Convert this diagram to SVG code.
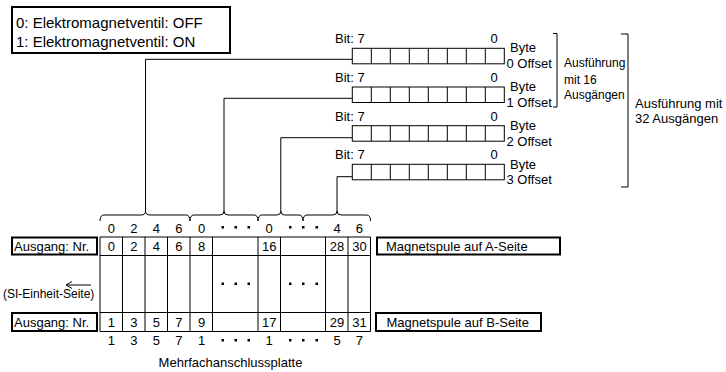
<svg xmlns="http://www.w3.org/2000/svg" width="726" height="372" viewBox="0 0 726 372">
<defs>
<style>
text{font-family:"Liberation Sans",Arial,sans-serif;fill:#000}
.t13{font-size:13px}
.t12{font-size:12px}
.t15{font-size:15px}
.mid{text-anchor:middle}
.ln{fill:none;stroke:#000;stroke-width:1}
.box{fill:#fff;stroke:#000;stroke-width:2}
.reg{fill:#fff;stroke:#000;stroke-width:1}
.dot{fill:#000}
</style>
<g id="regcells">
<rect class="reg" x="0" y="0" width="152" height="15.5"/>
<path class="ln" d="M19,0V15.5M38,0V15.5M57,0V15.5M76,0V15.5M95,0V15.5M114,0V15.5M133,0V15.5"/>
</g>
</defs>
<rect width="726" height="372" fill="#fff"/>

<g id="legend">
<rect class="box" x="12" y="7" width="218" height="46"/>
<text class="t15" x="16" y="28">0: Elektromagnetventil: OFF</text>
<text class="t15" x="16" y="47">1: Elektromagnetventil: ON</text>
</g>

<g id="connectors">
<path class="ln" d="M352.3,59.3H145.5V211"/>
<path class="ln" d="M352.3,98.3H224V211"/>
<path class="ln" d="M352.3,137.7H280.8V211"/>
<path class="ln" d="M352.3,176.7H337V211"/>
</g>

<g id="byte0">
<text class="t13" x="335" y="43">Bit: 7</text>
<text class="t13 mid" x="494" y="43">0</text>
<use href="#regcells" x="352.3" y="48.3"/>
<text class="t13" x="510" y="52">Byte</text>
<text class="t13" x="506.5" y="68">0 Offset</text>
</g>
<g id="byte1">
<text class="t13" x="335" y="82">Bit: 7</text>
<text class="t13 mid" x="494" y="82">0</text>
<use href="#regcells" x="352.3" y="87"/>
<text class="t13" x="510" y="91">Byte</text>
<text class="t13" x="506.5" y="107">1 Offset</text>
</g>
<g id="byte2">
<text class="t13" x="335" y="120.5">Bit: 7</text>
<text class="t13 mid" x="494" y="120.5">0</text>
<use href="#regcells" x="352.3" y="125.7"/>
<text class="t13" x="510" y="130">Byte</text>
<text class="t13" x="506.5" y="145.5">2 Offset</text>
</g>
<g id="byte3">
<text class="t13" x="335" y="159">Bit: 7</text>
<text class="t13 mid" x="494" y="159">0</text>
<use href="#regcells" x="352.3" y="164.3"/>
<text class="t13" x="510" y="168.5">Byte</text>
<text class="t13" x="506.5" y="184">3 Offset</text>
</g>

<g id="bracket16">
<path class="ln" d="M553,33.5H557V107H553"/>
<text class="t12" x="564" y="67">Ausführung</text>
<text class="t12" x="564" y="84">mit 16</text>
<text class="t12" x="564" y="99">Ausgängen</text>
</g>
<g id="bracket32">
<path class="ln" d="M621,34H628V187H621"/>
<text class="t13" x="635" y="107.5">Ausführung mit</text>
<text class="t13" x="635" y="123">32 Ausgängen</text>
</g>

<g id="braces">
<path class="ln" d="M100,221Q100,215 104,215H141Q145.5,215 145.5,211Q145.5,215 150,215H186Q190,215 190,221"/>
<path class="ln" d="M190,221Q190,215 194,215H220Q224,215 224,211Q224,215 228,215H254Q258,215 258,221"/>
<path class="ln" d="M258,221Q258,215 262,215H277Q280.8,215 280.8,211Q280.8,215 284.5,215H299Q303,215 303,221"/>
<path class="ln" d="M303,221Q303,215 307,215H333Q337,215 337,211Q337,215 341,215H366.5Q370.5,215 370.5,221"/>
</g>

<g id="header">
<text class="t13 mid" x="111.3" y="232.5">0</text>
<text class="t13 mid" x="133.8" y="232.5">2</text>
<text class="t13 mid" x="156.4" y="232.5">4</text>
<text class="t13 mid" x="178.9" y="232.5">6</text>
<text class="t13 mid" x="201.5" y="232.5">0</text>
<rect class="dot" x="221.5" y="226" width="2.5" height="2.5"/>
<rect class="dot" x="234.5" y="226" width="2.5" height="2.5"/>
<rect class="dot" x="247.5" y="226" width="2.5" height="2.5"/>
<text class="t13 mid" x="269.2" y="232.5">0</text>
<rect class="dot" x="289" y="226" width="2.5" height="2.5"/>
<rect class="dot" x="302" y="226" width="2.5" height="2.5"/>
<rect class="dot" x="315.5" y="226" width="2.5" height="2.5"/>
<text class="t13 mid" x="337" y="232.5">4</text>
<text class="t13 mid" x="359.4" y="232.5">6</text>
</g>

<g id="table">
<path class="ln" d="M100,237H370.5M100,255.5H370.5M100,312.5H370.5M100,331.5H370.5"/>
<path class="ln" d="M100,237V331.5M122.5,237V331.5M145,237V331.5M167.5,237V331.5M190,237V331.5M212.5,237V331.5M258,237V331.5M280.5,237V331.5M325.5,237V331.5M348,237V331.5M370.5,237V331.5"/>
<text class="t13 mid" x="111.3" y="250.5">0</text>
<text class="t13 mid" x="133.8" y="250.5">2</text>
<text class="t13 mid" x="156.4" y="250.5">4</text>
<text class="t13 mid" x="178.9" y="250.5">6</text>
<text class="t13 mid" x="201.5" y="250.5">8</text>
<text class="t13 mid" x="269.2" y="250.5">16</text>
<text class="t13 mid" x="337" y="250.5">28</text>
<text class="t13 mid" x="359.4" y="250.5">30</text>
<rect class="dot" x="221.5" y="282.5" width="2.5" height="2.5"/>
<rect class="dot" x="234.5" y="282.5" width="2.5" height="2.5"/>
<rect class="dot" x="247.5" y="282.5" width="2.5" height="2.5"/>
<rect class="dot" x="289" y="282.5" width="2.5" height="2.5"/>
<rect class="dot" x="302" y="282.5" width="2.5" height="2.5"/>
<rect class="dot" x="315.5" y="282.5" width="2.5" height="2.5"/>
<text class="t13 mid" x="111.3" y="326.5">1</text>
<text class="t13 mid" x="133.8" y="326.5">3</text>
<text class="t13 mid" x="156.4" y="326.5">5</text>
<text class="t13 mid" x="178.9" y="326.5">7</text>
<text class="t13 mid" x="201.5" y="326.5">9</text>
<text class="t13 mid" x="269.2" y="326.5">17</text>
<text class="t13 mid" x="337" y="326.5">29</text>
<text class="t13 mid" x="359.4" y="326.5">31</text>
</g>

<g id="footer">
<text class="t13 mid" x="111.3" y="345">1</text>
<text class="t13 mid" x="133.8" y="345">3</text>
<text class="t13 mid" x="156.4" y="345">5</text>
<text class="t13 mid" x="178.9" y="345">7</text>
<text class="t13 mid" x="201.5" y="345">1</text>
<rect class="dot" x="221.5" y="339" width="2.5" height="2.5"/>
<rect class="dot" x="234.5" y="339" width="2.5" height="2.5"/>
<rect class="dot" x="247.5" y="339" width="2.5" height="2.5"/>
<text class="t13 mid" x="269.2" y="345">1</text>
<rect class="dot" x="289" y="339" width="2.5" height="2.5"/>
<rect class="dot" x="302" y="339" width="2.5" height="2.5"/>
<rect class="dot" x="315.5" y="339" width="2.5" height="2.5"/>
<text class="t13 mid" x="337" y="345">5</text>
<text class="t13 mid" x="359.4" y="345">7</text>
<text class="t13 mid" x="230.5" y="367">Mehrfachanschlussplatte</text>
</g>

<g id="label-ausgang-a">
<rect class="box" x="12" y="237.5" width="85" height="17"/>
<text class="t13" x="14" y="250.5">Ausgang: Nr.</text>
</g>
<g id="label-ausgang-b">
<rect class="box" x="12" y="313" width="85" height="18"/>
<text class="t13" x="14" y="326.5">Ausgang: Nr.</text>
</g>
<g id="label-a-seite">
<rect class="box" x="377" y="237.5" width="183" height="17"/>
<text class="t13" x="386" y="250.5">Magnetspule auf A-Seite</text>
</g>
<g id="label-b-seite">
<rect class="box" x="376" y="313" width="165" height="18"/>
<text class="t13" x="386.5" y="326.5">Magnetspule auf B-Seite</text>
</g>

<g id="si-side">
<path class="ln" d="M91,285H66M72,281.5L66,285L72,288.5"/>
<text class="t12" x="3" y="297.5">(SI-Einheit-Seite)</text>
</g>
</svg>
